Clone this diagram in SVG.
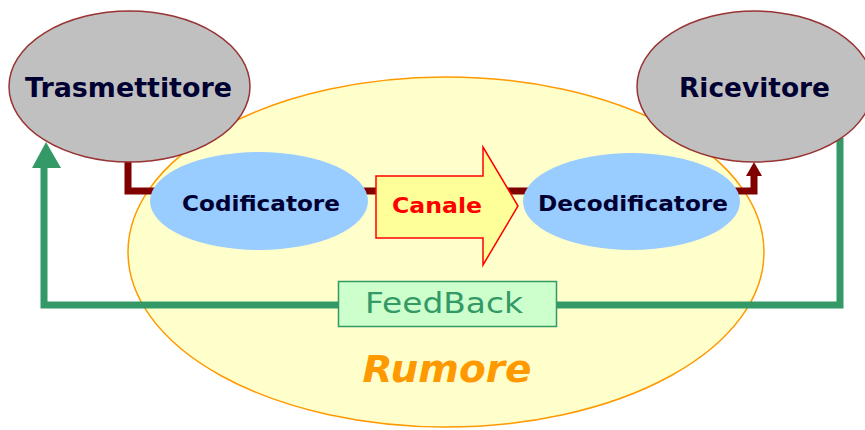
<svg xmlns="http://www.w3.org/2000/svg" width="865" height="430" viewBox="0 0 865 430">
<style>
.gray{fill:#c0c0c0;stroke:#993333;stroke-width:1.5}
.blue{fill:#99ccff;stroke:none}
.nodeText{font-family:"DejaVu Sans",Verdana,sans-serif;font-weight:bold;fill:#000033;text-anchor:middle}
.red{fill:none;stroke:#800000;stroke-width:7}
.green{fill:none;stroke:#339966;stroke-width:7}
</style>
<rect width="865" height="430" fill="#ffffff"/>
<g id="rumore">
<ellipse cx="446" cy="252" rx="318" ry="175" fill="#ffffcc" stroke="#ff9900" stroke-width="1.5"/>
<text x="447" y="382" font-family="'DejaVu Sans',Verdana,sans-serif" font-weight="bold" font-style="italic" font-size="38" fill="#ff9900" text-anchor="middle" textLength="169" lengthAdjust="spacingAndGlyphs">Rumore</text>
</g>
<g id="connectors">
<path class="red" d="M128,160 V191 H754 V176"/>
<polygon points="754,162 746,176 762,176" fill="#800000"/>
<path class="green" d="M840,138 V305 H44 V166"/>
<polygon points="46,142 32,168 61,168" fill="#339966"/>
</g>
<g id="trasmettitore">
<ellipse class="gray" cx="129.5" cy="86.5" rx="120.5" ry="75.5"/>
<text class="nodeText" x="128.5" y="97" font-size="27" textLength="207" lengthAdjust="spacingAndGlyphs">Trasmettitore</text>
</g>
<g id="ricevitore">
<ellipse class="gray" cx="755" cy="86.5" rx="118" ry="75.5"/>
<text class="nodeText" x="754.5" y="97" font-size="27" textLength="151" lengthAdjust="spacingAndGlyphs">Ricevitore</text>
</g>
<g id="codificatore">
<ellipse class="blue" cx="259" cy="201" rx="109" ry="49"/>
<text class="nodeText" x="261" y="211" font-size="22" textLength="158" lengthAdjust="spacingAndGlyphs">Codificatore</text>
</g>
<g id="canale">
<polygon points="376,176 483,176 483,147 518,206 483,265 483,238 376,238" fill="#ffff99" stroke="#ff0000" stroke-width="1.5"/>
<text x="437" y="213" font-family="'DejaVu Sans',Verdana,sans-serif" font-weight="bold" font-size="22" fill="#ff0000" text-anchor="middle" textLength="90" lengthAdjust="spacingAndGlyphs">Canale</text>
</g>
<g id="decodificatore">
<ellipse class="blue" cx="631.5" cy="201.5" rx="108.5" ry="48.5"/>
<text class="nodeText" x="633" y="211" font-size="22" textLength="190" lengthAdjust="spacingAndGlyphs">Decodificatore</text>
</g>
<g id="feedback">
<rect x="338.5" y="281.5" width="218" height="45" fill="#ccffcc" stroke="#339966" stroke-width="1.5"/>
<text x="444" y="313" font-family="'DejaVu Sans',Verdana,sans-serif" font-size="28" fill="#339966" text-anchor="middle" textLength="158" lengthAdjust="spacingAndGlyphs">FeedBack</text>
</g>
</svg>
